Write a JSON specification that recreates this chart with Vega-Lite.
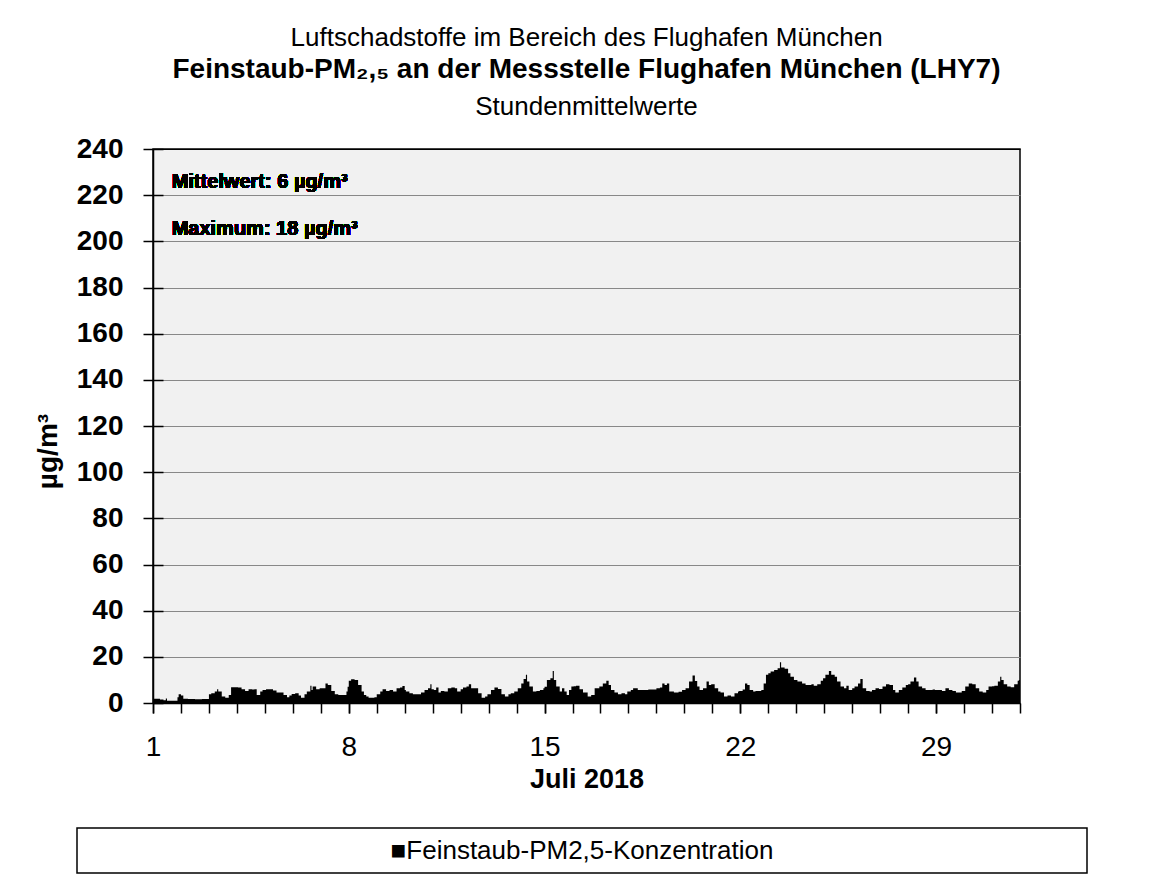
{
  "$schema": "https://vega.github.io/schema/vega-lite/v6.json",
  "background": "white",
  "padding": {"left": 33, "top": 25, "right": 5, "bottom": 5},
  "config": {
    "font": "Liberation Sans",
    "axis": {"labelColor": "black", "titleColor": "black", "tickColor": "black", "domainColor": "black", "labelFont": "Liberation Sans", "titleFont": "Liberation Sans"},
    "title": {"color": "black", "subtitleColor": "black", "font": "Liberation Sans", "subtitleFont": "Liberation Sans"}
  },
  "title": {"text": "Luftschadstoffe im Bereich des Flughafen München", "fontSize": 26, "fontWeight": "normal", "anchor": "middle", "offset": 4, "dx": 26},
  "datasets": {
    "pm": [
      {"t":"2018-07-01T00:00","v":1.8},{"t":"2018-07-01T03:00","v":1.8},{"t":"2018-07-01T06:00","v":1.5},{"t":"2018-07-01T09:00","v":1.2},{"t":"2018-07-01T11:00","v":2.0},{"t":"2018-07-01T12:00","v":1.0},{"t":"2018-07-01T15:00","v":1.0},{"t":"2018-07-01T18:00","v":1.0},{"t":"2018-07-01T21:00","v":2.5},{"t":"2018-07-01T22:00","v":3.8},
      {"t":"2018-07-02T00:00","v":3.2},{"t":"2018-07-02T02:00","v":1.8},{"t":"2018-07-02T06:00","v":1.7},{"t":"2018-07-02T12:00","v":1.6},{"t":"2018-07-02T18:00","v":1.7},{"t":"2018-07-02T23:00","v":1.7},
      {"t":"2018-07-03T00:00","v":3.8},{"t":"2018-07-03T02:00","v":4.2},{"t":"2018-07-03T05:00","v":5.0},{"t":"2018-07-03T07:00","v":6.0},{"t":"2018-07-03T08:00","v":5.0},{"t":"2018-07-03T11:00","v":2.8},{"t":"2018-07-03T14:00","v":2.3},{"t":"2018-07-03T17:00","v":3.5},{"t":"2018-07-03T19:00","v":6.8},{"t":"2018-07-03T22:00","v":6.8},
      {"t":"2018-07-04T01:00","v":6.7},{"t":"2018-07-04T04:00","v":6.0},{"t":"2018-07-04T07:00","v":5.2},{"t":"2018-07-04T10:00","v":6.0},{"t":"2018-07-04T13:00","v":5.8},{"t":"2018-07-04T15:00","v":6.0},{"t":"2018-07-04T17:00","v":3.5},{"t":"2018-07-04T20:00","v":5.0},{"t":"2018-07-04T22:00","v":5.6},
      {"t":"2018-07-05T01:00","v":6.0},{"t":"2018-07-05T04:00","v":6.0},{"t":"2018-07-05T07:00","v":5.4},{"t":"2018-07-05T10:00","v":4.6},{"t":"2018-07-05T13:00","v":4.6},{"t":"2018-07-05T16:00","v":3.5},{"t":"2018-07-05T19:00","v":2.5},{"t":"2018-07-05T21:00","v":3.2},{"t":"2018-07-05T23:00","v":3.9},
      {"t":"2018-07-06T02:00","v":4.2},{"t":"2018-07-06T05:00","v":3.2},{"t":"2018-07-06T07:00","v":2.3},{"t":"2018-07-06T10:00","v":3.8},{"t":"2018-07-06T12:00","v":5.0},{"t":"2018-07-06T15:00","v":7.5},{"t":"2018-07-06T16:00","v":5.6},{"t":"2018-07-06T17:00","v":7.1},{"t":"2018-07-06T20:00","v":6.0},{"t":"2018-07-06T23:00","v":6.4},
      {"t":"2018-07-07T02:00","v":6.4},{"t":"2018-07-07T04:00","v":8.5},{"t":"2018-07-07T06:00","v":7.8},{"t":"2018-07-07T09:00","v":5.2},{"t":"2018-07-07T12:00","v":3.8},{"t":"2018-07-07T15:00","v":3.5},{"t":"2018-07-07T19:00","v":3.5},{"t":"2018-07-07T22:00","v":5.0},{"t":"2018-07-07T23:00","v":7.0},
      {"t":"2018-07-08T00:00","v":9.6},{"t":"2018-07-08T02:00","v":10.3},{"t":"2018-07-08T05:00","v":10.0},{"t":"2018-07-08T08:00","v":7.8},{"t":"2018-07-08T11:00","v":5.0},{"t":"2018-07-08T13:00","v":3.5},{"t":"2018-07-08T15:00","v":2.8},{"t":"2018-07-08T17:00","v":2.3},{"t":"2018-07-08T20:00","v":2.3},{"t":"2018-07-08T22:00","v":2.5},
      {"t":"2018-07-09T00:00","v":3.8},{"t":"2018-07-09T03:00","v":5.0},{"t":"2018-07-09T05:00","v":6.0},{"t":"2018-07-09T08:00","v":5.2},{"t":"2018-07-09T11:00","v":5.6},{"t":"2018-07-09T14:00","v":5.0},{"t":"2018-07-09T17:00","v":6.4},{"t":"2018-07-09T20:00","v":6.7},{"t":"2018-07-09T22:00","v":7.4},
      {"t":"2018-07-10T00:00","v":5.6},{"t":"2018-07-10T01:00","v":5.0},{"t":"2018-07-10T04:00","v":4.2},{"t":"2018-07-10T07:00","v":3.8},{"t":"2018-07-10T11:00","v":3.8},{"t":"2018-07-10T14:00","v":4.5},{"t":"2018-07-10T17:00","v":5.6},{"t":"2018-07-10T20:00","v":6.4},{"t":"2018-07-10T22:00","v":8.1},{"t":"2018-07-10T23:00","v":6.0},
      {"t":"2018-07-11T01:00","v":5.6},{"t":"2018-07-11T03:00","v":6.7},{"t":"2018-07-11T05:00","v":4.6},{"t":"2018-07-11T07:00","v":5.2},{"t":"2018-07-11T10:00","v":5.0},{"t":"2018-07-11T13:00","v":6.4},{"t":"2018-07-11T16:00","v":6.7},{"t":"2018-07-11T19:00","v":6.4},{"t":"2018-07-11T21:00","v":5.0},
      {"t":"2018-07-12T00:00","v":6.0},{"t":"2018-07-12T02:00","v":6.7},{"t":"2018-07-12T05:00","v":7.1},{"t":"2018-07-12T07:00","v":8.1},{"t":"2018-07-12T09:00","v":6.4},{"t":"2018-07-12T12:00","v":6.4},{"t":"2018-07-12T15:00","v":4.2},{"t":"2018-07-12T18:00","v":2.3},{"t":"2018-07-12T21:00","v":2.8},{"t":"2018-07-12T23:00","v":3.8},
      {"t":"2018-07-13T02:00","v":5.6},{"t":"2018-07-13T05:00","v":6.7},{"t":"2018-07-13T08:00","v":6.1},{"t":"2018-07-13T11:00","v":3.8},{"t":"2018-07-13T14:00","v":2.8},{"t":"2018-07-13T17:00","v":3.8},{"t":"2018-07-13T19:00","v":4.2},{"t":"2018-07-13T22:00","v":5.0},
      {"t":"2018-07-14T01:00","v":6.4},{"t":"2018-07-14T04:00","v":8.5},{"t":"2018-07-14T06:00","v":10.4},{"t":"2018-07-14T08:00","v":12.2},{"t":"2018-07-14T09:00","v":9.3},{"t":"2018-07-14T11:00","v":7.1},{"t":"2018-07-14T14:00","v":5.0},{"t":"2018-07-14T17:00","v":5.2},{"t":"2018-07-14T20:00","v":5.6},{"t":"2018-07-14T23:00","v":6.4},
      {"t":"2018-07-15T00:00","v":7.0},{"t":"2018-07-15T02:00","v":10.0},{"t":"2018-07-15T05:00","v":10.7},{"t":"2018-07-15T07:00","v":13.9},{"t":"2018-07-15T08:00","v":10.0},{"t":"2018-07-15T10:00","v":7.1},{"t":"2018-07-15T13:00","v":5.0},{"t":"2018-07-15T15:00","v":6.4},{"t":"2018-07-15T17:00","v":5.0},{"t":"2018-07-15T19:00","v":3.5},{"t":"2018-07-15T21:00","v":5.6},{"t":"2018-07-15T23:00","v":7.1},
      {"t":"2018-07-16T01:00","v":7.3},{"t":"2018-07-16T03:00","v":7.5},{"t":"2018-07-16T06:00","v":6.0},{"t":"2018-07-16T09:00","v":4.6},{"t":"2018-07-16T13:00","v":2.8},{"t":"2018-07-16T16:00","v":3.5},{"t":"2018-07-16T19:00","v":6.4},{"t":"2018-07-16T23:00","v":7.1},
      {"t":"2018-07-17T02:00","v":8.5},{"t":"2018-07-17T05:00","v":9.6},{"t":"2018-07-17T07:00","v":7.8},{"t":"2018-07-17T09:00","v":5.6},{"t":"2018-07-17T12:00","v":4.6},{"t":"2018-07-17T15:00","v":3.8},{"t":"2018-07-17T18:00","v":4.2},{"t":"2018-07-17T21:00","v":3.8},{"t":"2018-07-17T23:00","v":5.0},
      {"t":"2018-07-18T02:00","v":5.6},{"t":"2018-07-18T04:00","v":6.4},{"t":"2018-07-18T08:00","v":5.6},{"t":"2018-07-18T12:00","v":5.6},{"t":"2018-07-18T17:00","v":5.9},{"t":"2018-07-18T21:00","v":5.9},
      {"t":"2018-07-19T00:00","v":6.4},{"t":"2018-07-19T03:00","v":6.7},{"t":"2018-07-19T05:00","v":8.5},{"t":"2018-07-19T07:00","v":7.8},{"t":"2018-07-19T09:00","v":8.5},{"t":"2018-07-19T11:00","v":5.0},{"t":"2018-07-19T15:00","v":4.6},{"t":"2018-07-19T19:00","v":4.9},{"t":"2018-07-19T22:00","v":5.6},
      {"t":"2018-07-20T01:00","v":6.4},{"t":"2018-07-20T04:00","v":9.3},{"t":"2018-07-20T07:00","v":11.9},{"t":"2018-07-20T09:00","v":9.5},{"t":"2018-07-20T11:00","v":7.1},{"t":"2018-07-20T13:00","v":5.6},{"t":"2018-07-20T16:00","v":6.4},{"t":"2018-07-20T19:00","v":9.3},{"t":"2018-07-20T21:00","v":7.8},{"t":"2018-07-20T23:00","v":8.1},
      {"t":"2018-07-21T02:00","v":6.4},{"t":"2018-07-21T05:00","v":5.0},{"t":"2018-07-21T07:00","v":4.6},{"t":"2018-07-21T10:00","v":2.8},{"t":"2018-07-21T13:00","v":3.2},{"t":"2018-07-21T16:00","v":2.8},{"t":"2018-07-21T19:00","v":4.2},{"t":"2018-07-21T22:00","v":5.0},{"t":"2018-07-21T23:00","v":5.2},
      {"t":"2018-07-22T02:00","v":5.9},{"t":"2018-07-22T04:00","v":8.5},{"t":"2018-07-22T06:00","v":7.8},{"t":"2018-07-22T08:00","v":5.6},{"t":"2018-07-22T11:00","v":5.0},{"t":"2018-07-22T13:00","v":5.2},{"t":"2018-07-22T18:00","v":5.6},{"t":"2018-07-22T20:00","v":8.5},{"t":"2018-07-22T22:00","v":12.2},
      {"t":"2018-07-23T00:00","v":12.9},{"t":"2018-07-23T02:00","v":13.6},{"t":"2018-07-23T05:00","v":14.3},{"t":"2018-07-23T08:00","v":15.1},{"t":"2018-07-23T10:00","v":17.6},{"t":"2018-07-23T11:00","v":15.4},{"t":"2018-07-23T14:00","v":14.8},{"t":"2018-07-23T17:00","v":12.9},{"t":"2018-07-23T19:00","v":11.4},{"t":"2018-07-23T22:00","v":10.0},
      {"t":"2018-07-24T01:00","v":9.3},{"t":"2018-07-24T03:00","v":9.3},{"t":"2018-07-24T05:00","v":8.5},{"t":"2018-07-24T08:00","v":7.8},{"t":"2018-07-24T13:00","v":8.1},{"t":"2018-07-24T15:00","v":7.5},{"t":"2018-07-24T18:00","v":8.1},{"t":"2018-07-24T21:00","v":9.6},{"t":"2018-07-24T23:00","v":10.7},
      {"t":"2018-07-25T01:00","v":12.2},{"t":"2018-07-25T04:00","v":13.9},{"t":"2018-07-25T06:00","v":12.2},{"t":"2018-07-25T09:00","v":11.4},{"t":"2018-07-25T11:00","v":9.3},{"t":"2018-07-25T14:00","v":7.1},{"t":"2018-07-25T17:00","v":6.4},{"t":"2018-07-25T19:00","v":7.5},{"t":"2018-07-25T21:00","v":5.6},
      {"t":"2018-07-26T00:00","v":6.4},{"t":"2018-07-26T02:00","v":7.1},{"t":"2018-07-26T05:00","v":8.5},{"t":"2018-07-26T07:00","v":10.4},{"t":"2018-07-26T09:00","v":6.4},{"t":"2018-07-26T12:00","v":5.2},{"t":"2018-07-26T15:00","v":5.0},{"t":"2018-07-26T17:00","v":5.6},{"t":"2018-07-26T20:00","v":6.4},{"t":"2018-07-26T23:00","v":6.1},
      {"t":"2018-07-27T02:00","v":7.1},{"t":"2018-07-27T05:00","v":8.1},{"t":"2018-07-27T08:00","v":7.8},{"t":"2018-07-27T11:00","v":5.6},{"t":"2018-07-27T13:00","v":4.6},{"t":"2018-07-27T16:00","v":5.6},{"t":"2018-07-27T19:00","v":6.7},{"t":"2018-07-27T22:00","v":7.8},
      {"t":"2018-07-28T00:00","v":8.1},{"t":"2018-07-28T02:00","v":9.3},{"t":"2018-07-28T05:00","v":11.0},{"t":"2018-07-28T07:00","v":9.3},{"t":"2018-07-28T09:00","v":7.1},{"t":"2018-07-28T12:00","v":6.4},{"t":"2018-07-28T15:00","v":5.6},{"t":"2018-07-28T18:00","v":5.6},{"t":"2018-07-28T21:00","v":5.9},{"t":"2018-07-28T23:00","v":5.6},
      {"t":"2018-07-29T03:00","v":5.6},{"t":"2018-07-29T05:00","v":5.2},{"t":"2018-07-29T08:00","v":6.4},{"t":"2018-07-29T11:00","v":5.6},{"t":"2018-07-29T14:00","v":5.2},{"t":"2018-07-29T17:00","v":4.6},{"t":"2018-07-29T20:00","v":4.6},{"t":"2018-07-29T22:00","v":5.2},
      {"t":"2018-07-30T01:00","v":7.1},{"t":"2018-07-30T04:00","v":8.5},{"t":"2018-07-30T07:00","v":8.1},{"t":"2018-07-30T10:00","v":6.4},{"t":"2018-07-30T13:00","v":5.0},{"t":"2018-07-30T16:00","v":4.6},{"t":"2018-07-30T19:00","v":5.6},{"t":"2018-07-30T21:00","v":7.1},
      {"t":"2018-07-31T00:00","v":7.3},{"t":"2018-07-31T02:00","v":7.5},{"t":"2018-07-31T05:00","v":9.3},{"t":"2018-07-31T07:00","v":11.4},{"t":"2018-07-31T08:00","v":10.0},{"t":"2018-07-31T10:00","v":8.1},{"t":"2018-07-31T13:00","v":7.1},{"t":"2018-07-31T16:00","v":6.8},{"t":"2018-07-31T19:00","v":8.1},{"t":"2018-07-31T22:00","v":9.6},{"t":"2018-07-31T23:00","v":10.0},
      {"t":"2018-08-01T00:00","v":10.0}
    ]
  },
  "vconcat": [
    {
      "hconcat": [
        {
          "width": 1, "height": 1,
          "view": {"stroke": null, "fill": null},
          "data": {"values": []},
          "mark": {"type": "point", "opacity": 0},
          "encoding": {}
        },
        {
          "width": 867,
          "height": 554,
          "view": {"fill": "#f1f1f1", "stroke": "black", "strokeWidth": 1.5},
          "title": {"text": "Feinstaub-PM₂,₅ an der Messstelle Flughafen München (LHY7)", "subtitle": "Stundenmittelwerte", "fontSize": 28, "fontWeight": "bold", "subtitleFontSize": 26, "subtitleFontWeight": "normal", "anchor": "middle", "frame": "group", "offset": 15, "subtitlePadding": 10},
          "data": {"name": "pm"},
          "resolve": {"axis": {"x": "independent", "y": "independent"}},
          "layer": [
            {
              "mark": {"type": "area", "interpolate": "step-after", "color": "black"},
              "encoding": {
                "x": {
                  "field": "t", "type": "temporal",
                  "scale": {"domain": [{"year": 2018, "month": 7, "date": 1}, {"year": 2018, "month": 8, "date": 1}], "nice": false},
                  "axis": {
                    "orient": "bottom",
                    "values": [
                      {"year": 2018, "month": 7, "date": 1}, {"year": 2018, "month": 7, "date": 2}, {"year": 2018, "month": 7, "date": 3}, {"year": 2018, "month": 7, "date": 4},
                      {"year": 2018, "month": 7, "date": 5}, {"year": 2018, "month": 7, "date": 6}, {"year": 2018, "month": 7, "date": 7}, {"year": 2018, "month": 7, "date": 8},
                      {"year": 2018, "month": 7, "date": 9}, {"year": 2018, "month": 7, "date": 10}, {"year": 2018, "month": 7, "date": 11}, {"year": 2018, "month": 7, "date": 12},
                      {"year": 2018, "month": 7, "date": 13}, {"year": 2018, "month": 7, "date": 14}, {"year": 2018, "month": 7, "date": 15}, {"year": 2018, "month": 7, "date": 16},
                      {"year": 2018, "month": 7, "date": 17}, {"year": 2018, "month": 7, "date": 18}, {"year": 2018, "month": 7, "date": 19}, {"year": 2018, "month": 7, "date": 20},
                      {"year": 2018, "month": 7, "date": 21}, {"year": 2018, "month": 7, "date": 22}, {"year": 2018, "month": 7, "date": 23}, {"year": 2018, "month": 7, "date": 24},
                      {"year": 2018, "month": 7, "date": 25}, {"year": 2018, "month": 7, "date": 26}, {"year": 2018, "month": 7, "date": 27}, {"year": 2018, "month": 7, "date": 28},
                      {"year": 2018, "month": 7, "date": 29}, {"year": 2018, "month": 7, "date": 30}, {"year": 2018, "month": 7, "date": 31}, {"year": 2018, "month": 8, "date": 1}
                    ],
                    "labels": false,
                    "title": null,
                    "grid": false,
                    "tickSize": 10,
                    "tickWidth": 1.5,
                    "domainWidth": 1.5
                  }
                },
                "y": {
                  "field": "v", "type": "quantitative",
                  "scale": {"domain": [0, 240], "nice": false},
                  "axis": {
                    "orient": "left",
                    "values": [0, 20, 40, 60, 80, 100, 120, 140, 160, 180, 200, 220, 240],
                    "grid": true,
                    "gridColor": {"condition": {"test": "datum.value == 0 || datum.value == 240", "value": "black"}, "value": "#888888"},
                    "gridWidth": 1.2,
                    "tickSize": 10,
                    "tickWidth": 1.5,
                    "domainWidth": 1.5,
                    "labelFontSize": 28,
                    "labelFontWeight": "bold",
                    "labelPadding": 20,
                    "title": "µg/m³",
                    "titleFontSize": 28,
                    "titleFontWeight": "bold",
                    "titlePadding": 14,
                    "titleY": 302
                  }
                }
              }
            },
            {
              "mark": {"type": "text", "align": "left", "baseline": "alphabetic", "fontSize": 20, "fontWeight": "bold", "color": "black"},
              "encoding": {
                "x": {
                  "datum": {"year": 2018, "month": 7, "date": 1, "hours": 16}, "type": "temporal",
                  "axis": {
                    "orient": "bottom",
                    "values": [
                      {"year": 2018, "month": 7, "date": 1}, {"year": 2018, "month": 7, "date": 8}, {"year": 2018, "month": 7, "date": 15},
                      {"year": 2018, "month": 7, "date": 22}, {"year": 2018, "month": 7, "date": 29}
                    ],
                    "format": "%-d",
                    "domain": false,
                    "grid": false,
                    "tickSize": 10,
                    "tickWidth": 1.5,
                    "labelFontSize": 28,
                    "labelPadding": 20,
                    "labelOverlap": false,
                    "labelFlush": false,
                    "labelBound": false,
                    "title": "Juli 2018",
                    "titleFontSize": 27,
                    "titleFontWeight": "bold",
                    "titlePadding": 5
                  }
                },
                "y": {"datum": 223, "type": "quantitative", "axis": null},
                "text": {"value": "Mittelwert: 6 µg/m³"}
              }
            },
            {
              "mark": {"type": "text", "align": "left", "baseline": "alphabetic", "fontSize": 20, "fontWeight": "bold", "color": "black"},
              "encoding": {
                "x": {"datum": {"year": 2018, "month": 7, "date": 1, "hours": 16}, "type": "temporal", "axis": null},
                "y": {
                  "datum": 202.7, "type": "quantitative",
                  "axis": {
                    "orient": "left",
                    "offset": -10,
                    "values": [0, 20, 40, 60, 80, 100, 120, 140, 160, 180, 200, 220, 240],
                    "labels": false,
                    "domain": false,
                    "grid": false,
                    "title": null,
                    "tickSize": 10,
                    "tickWidth": 1.5
                  }
                },
                "text": {"value": "Maximum: 18 µg/m³"}
              }
            }
          ]
        }
      ],
      "spacing": -45
    },
    {
      "width": 1010,
      "height": 45,
      "view": {"fill": "white", "stroke": "black", "strokeWidth": 1.5},
      "data": {"values": [{"serie": "Feinstaub-PM2,5-Konzentration"}]},
      "transform": [{"calculate": "'■' + datum.serie", "as": "label"}],
      "mark": {"type": "text", "fontSize": 26, "color": "black", "baseline": "middle", "align": "center"},
      "encoding": {"text": {"field": "label"}}
    }
  ],
  "spacing": 34
}
